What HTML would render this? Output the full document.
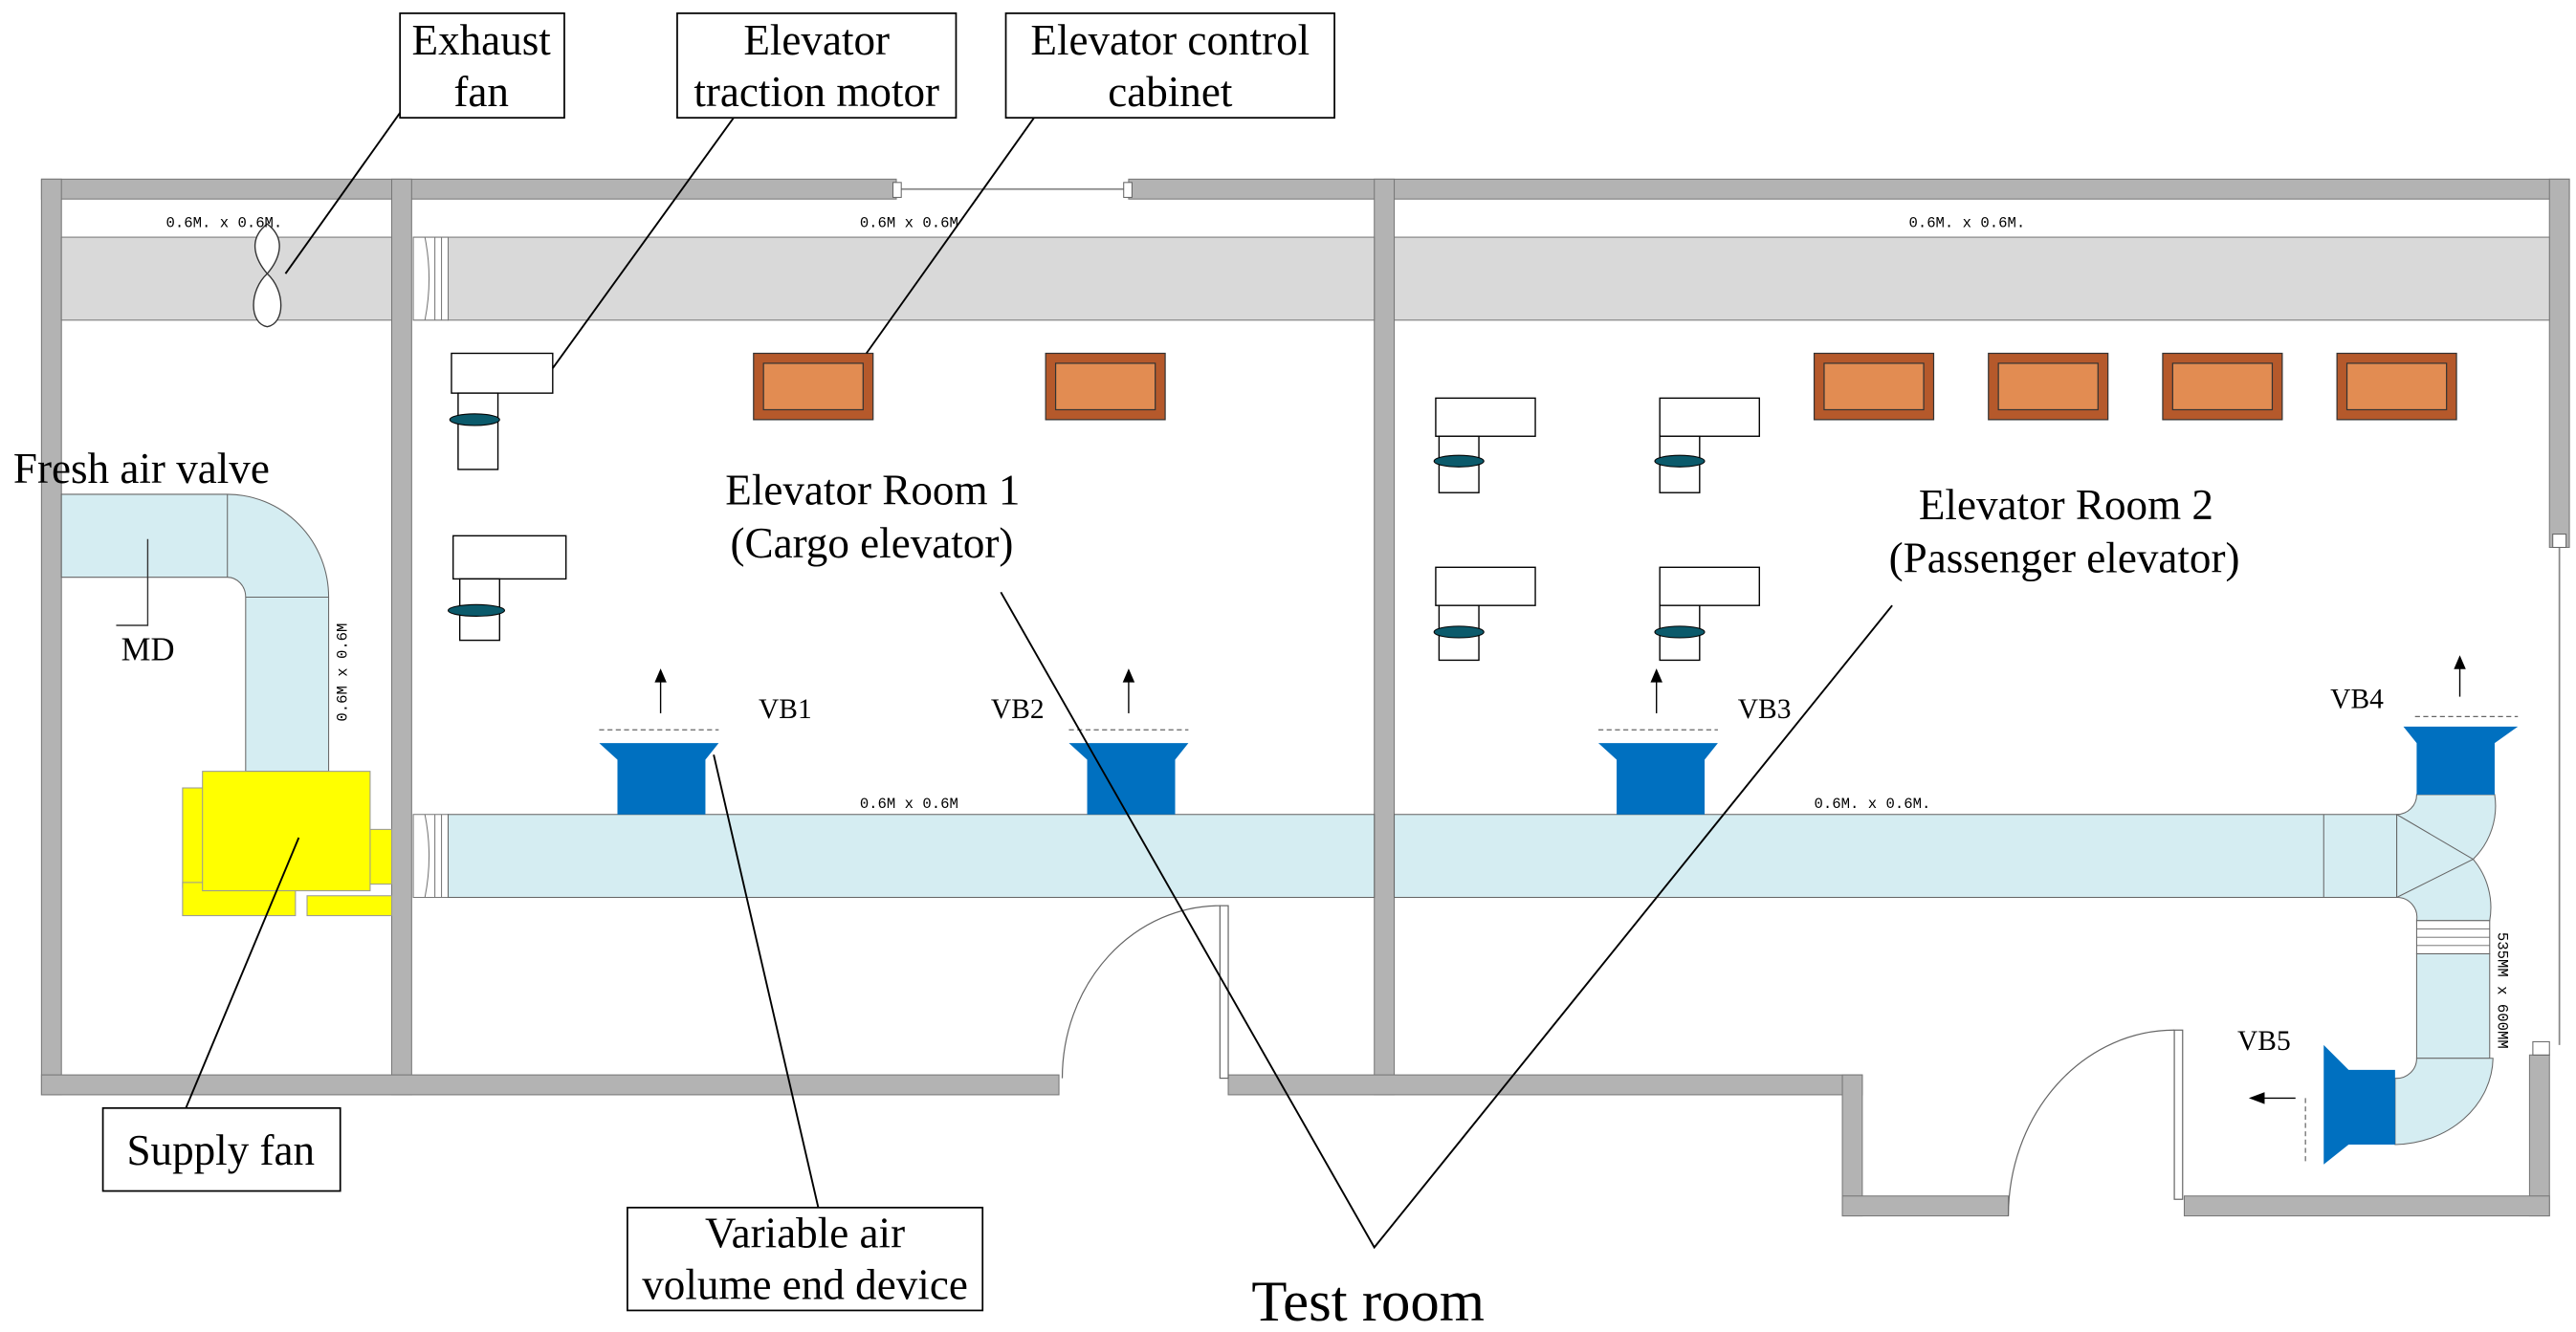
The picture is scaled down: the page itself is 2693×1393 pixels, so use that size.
<!DOCTYPE html>
<html><head><meta charset="utf-8"><style>
html,body{margin:0;padding:0;background:#fff;width:2693px;height:1393px;overflow:hidden}
svg{display:block}
text{font-family:"Liberation Serif",serif;fill:#000}
.s{font-size:9px;font-family:"Liberation Mono",monospace}
.l{font-size:26px}
</style></head><body>
<svg width="2693" height="1393" viewBox="0 0 1552 803" preserveAspectRatio="none" xmlns="http://www.w3.org/2000/svg">
<g fill="#b3b3b3" stroke="#777" stroke-width="0.6">
<rect x="25" y="108" width="515" height="12"/>
<rect x="680" y="108" width="868" height="12"/>
<rect x="25" y="108" width="12" height="552"/>
<rect x="236" y="108" width="12" height="552"/>
<rect x="828" y="108" width="12" height="552"/>
<rect x="1536" y="108" width="12" height="222"/>
<rect x="1524" y="636" width="12" height="97"/>
<rect x="25" y="648" width="613" height="12"/>
<rect x="740" y="648" width="382" height="12"/>
<rect x="1110" y="648" width="12" height="85"/>
<rect x="1110" y="721" width="100" height="12"/>
<rect x="1316" y="721" width="220" height="12"/>
</g>
<line x1="540" y1="114" x2="680" y2="114" stroke="#888" stroke-width="1"/>
<rect x="538" y="110" width="5" height="9" fill="#fff" stroke="#666" stroke-width="0.6"/>
<rect x="677" y="110" width="5" height="9" fill="#fff" stroke="#666" stroke-width="0.6"/>
<line x1="1542" y1="330" x2="1542" y2="630" stroke="#888" stroke-width="1"/>
<rect x="1538" y="322" width="8" height="8" fill="#fff" stroke="#666" stroke-width="0.6"/>
<rect x="1526" y="628" width="10" height="8" fill="#fff" stroke="#666" stroke-width="0.6"/>
<rect x="37" y="143" width="199" height="50" fill="#d9d9d9" stroke="#777" stroke-width="0.6"/>
<rect x="270" y="143" width="558" height="50" fill="#d9d9d9" stroke="#777" stroke-width="0.6"/>
<rect x="840" y="143" width="696" height="50" fill="#d9d9d9" stroke="#777" stroke-width="0.6"/>
<path d="M249 143 h21 v50 h-21 Z M256 143 q5 25 0 50 M262 143 v50 M266 143 v50" fill="#fff" stroke="#777" stroke-width="0.6"/>
<path d="M161 135 C148 145 155 158 161 165 C167 158 174 145 161 135 Z M161 165 C150 175 150 195 161 197 C172 195 172 175 161 165 Z" fill="#fff" stroke="#333" stroke-width="0.8"/>
<text class="s" x="100" y="137">0.6M.  x 0.6M.</text>
<text class="s" x="518" y="137">0.6M x 0.6M</text>
<text class="s" x="1150" y="137">0.6M.  x 0.6M.</text>
<path d="M37 298 H137 A61 62 0 0 1 198 360 V465 H148 V360 A11 12 0 0 0 137 348 H37 Z" fill="#d5edf2" stroke="#666" stroke-width="0.6"/>
<line x1="137" y1="298" x2="137" y2="348" stroke="#666" stroke-width="0.6"/>
<line x1="148" y1="360" x2="198" y2="360" stroke="#666" stroke-width="0.6"/>
<polyline points="89,325 89,377 70,377" fill="none" stroke="#333" stroke-width="0.8"/>
<text x="73" y="398" style="font-size:20px">MD</text>
<text class="s" transform="translate(209,435) rotate(-90)">0.6M x 0.6M</text>
<text class="l" x="8" y="291">Fresh air valve</text>
<g fill="#ffff00" stroke="#999" stroke-width="0.6">
<rect x="110" y="475" width="22" height="60"/>
<rect x="110" y="532" width="68" height="20"/>
<rect x="185" y="540" width="51" height="12"/>
<rect x="218" y="500" width="18" height="33"/>
<rect x="122" y="465" width="101" height="72"/>
</g>
<path d="M249 491 h21 v50 h-21 Z M256 491 q5 25 0 50 M262 491 v50 M266 491 v50" fill="#fff" stroke="#777" stroke-width="0.6"/>
<rect x="270" y="491" width="558" height="50" fill="#d5edf2" stroke="#666" stroke-width="0.6"/>
<rect x="840" y="491" width="604" height="50" fill="#d5edf2" stroke="#666" stroke-width="0.6"/>
<line x1="1400" y1="491" x2="1400" y2="541" stroke="#666" stroke-width="0.6"/>
<path d="M1444 491 A12 12 0 0 0 1456 479 H1503 A45 45 0 0 1 1490 518 A45 45 0 0 1 1500 555 H1456 A12 12 0 0 0 1444 541 Z" fill="#d5edf2" stroke="#666" stroke-width="0.6"/>
<polyline points="1444,491 1490,518 1444,541" fill="none" stroke="#666" stroke-width="0.6"/>
<rect x="1456" y="555" width="44" height="20" fill="#fff" stroke="#666" stroke-width="0.6"/>
<path d="M1456 560 h44 M1456 565 h44 M1456 570 h44" stroke="#666" stroke-width="0.5"/>
<rect x="1456" y="575" width="44" height="63" fill="#d5edf2" stroke="#666" stroke-width="0.6"/>
<path d="M1456 638 H1502 A60 53 0 0 1 1443 690 V650 A12 12 0 0 0 1456 638 Z" fill="#d5edf2" stroke="#666" stroke-width="0.6"/>
<text class="s" transform="translate(1505,562) rotate(90)">535MM x 600MM</text>
<text class="s" x="518" y="487">0.6M x 0.6M</text>
<text class="s" x="1093" y="487">0.6M.  x 0.6M.</text>
<g fill="#0070c0">
<path d="M361 448 H433 L425 458 V491 H372 V458 Z"/>
<path d="M644 448 H716 L708 458 V491 H655 V458 Z"/>
<path d="M963 448 H1035 L1027 458 V491 H974 V458 Z"/>
<path d="M1448 438 H1517 L1503 448 V479 H1456 V448 Z"/>
<path d="M1400 630 L1415 645 H1443 V690 H1415 L1400 702 Z"/>
</g>
<g stroke="#666" stroke-width="0.7" stroke-dasharray="3,2">
<line x1="361" y1="440" x2="433" y2="440"/>
<line x1="644" y1="440" x2="716" y2="440"/>
<line x1="963" y1="440" x2="1035" y2="440"/>
<line x1="1455" y1="432" x2="1517" y2="432"/>
<line x1="1389" y1="662" x2="1389" y2="700"/>
</g>
<g stroke="#000" stroke-width="0.8" fill="#000">
<line x1="398" y1="430" x2="398" y2="410"/><path d="M395 411 L398 404 L401 411 Z"/>
<line x1="680" y1="430" x2="680" y2="410"/><path d="M677 411 L680 404 L683 411 Z"/>
<line x1="998" y1="430" x2="998" y2="410"/><path d="M995 411 L998 404 L1001 411 Z"/>
<line x1="1482" y1="420" x2="1482" y2="402"/><path d="M1479 403 L1482 396 L1485 403 Z"/>
<line x1="1383" y1="662" x2="1363" y2="662"/><path d="M1364 659 L1356 662 L1364 665 Z"/>
</g>
<g style="font-size:17px">
<text x="457" y="433">VB1</text><text x="597" y="433">VB2</text><text x="1047" y="433">VB3</text>
<text x="1404" y="427">VB4</text><text x="1348" y="633">VB5</text>
</g>
<g fill="#fff" stroke="#000" stroke-width="0.8">
<rect x="272" y="213" width="61" height="24"/><rect x="276" y="237" width="24" height="46"/>
<rect x="273" y="323" width="68" height="26"/><rect x="277" y="349" width="24" height="37"/>
<rect x="865" y="240" width="60" height="23"/><rect x="867" y="263" width="24" height="34"/>
<rect x="1000" y="240" width="60" height="23"/><rect x="1000" y="263" width="24" height="34"/>
<rect x="865" y="342" width="60" height="23"/><rect x="867" y="365" width="24" height="33"/>
<rect x="1000" y="342" width="60" height="23"/><rect x="1000" y="365" width="24" height="33"/>
</g>
<g fill="#0b5a6b" stroke="#000" stroke-width="0.6">
<ellipse cx="286" cy="253" rx="15" ry="3.5"/><ellipse cx="287" cy="368" rx="17" ry="3.5"/>
<ellipse cx="879" cy="278" rx="15" ry="3.5"/><ellipse cx="1012" cy="278" rx="15" ry="3.5"/>
<ellipse cx="879" cy="381" rx="15" ry="3.5"/><ellipse cx="1012" cy="381" rx="15" ry="3.5"/>
</g>
<g stroke="#333" stroke-width="0.7">
<g transform="translate(454,213)"><rect width="72" height="40" fill="#b5592b"/><rect x="6" y="6" width="60" height="28" fill="#e28c52"/></g>
<g transform="translate(630,213)"><rect width="72" height="40" fill="#b5592b"/><rect x="6" y="6" width="60" height="28" fill="#e28c52"/></g>
<g transform="translate(1093,213)"><rect width="72" height="40" fill="#b5592b"/><rect x="6" y="6" width="60" height="28" fill="#e28c52"/></g>
<g transform="translate(1198,213)"><rect width="72" height="40" fill="#b5592b"/><rect x="6" y="6" width="60" height="28" fill="#e28c52"/></g>
<g transform="translate(1303,213)"><rect width="72" height="40" fill="#b5592b"/><rect x="6" y="6" width="60" height="28" fill="#e28c52"/></g>
<g transform="translate(1408,213)"><rect width="72" height="40" fill="#b5592b"/><rect x="6" y="6" width="60" height="28" fill="#e28c52"/></g>
</g>
<g fill="none" stroke="#666" stroke-width="0.7">
<path d="M640 650 A95 104 0 0 1 735 546"/>
<rect x="735" y="546" width="5" height="104" fill="#fff"/>
<path d="M1210 733 A100 112 0 0 1 1310 621"/>
<rect x="1310" y="621" width="5" height="102" fill="#fff"/>
</g>
<text class="l" x="437" y="304">Elevator Room 1</text>
<text class="l" x="440" y="336">(Cargo elevator)</text>
<text class="l" x="1156" y="313">Elevator Room 2</text>
<text class="l" x="1138" y="345">(Passenger elevator)</text>
<text x="754" y="796" style="font-size:35px">Test room</text>
<g stroke="#000" stroke-width="1.1" fill="none">
<line x1="241" y1="68" x2="172" y2="165"/>
<line x1="442" y1="71" x2="333" y2="222"/>
<line x1="623" y1="71" x2="522" y2="213"/>
<line x1="180" y1="505" x2="112" y2="668"/>
<line x1="430" y1="455" x2="493" y2="728"/>
<polyline points="603,357 828,752 1140,365"/>
</g>
<g fill="#fff" stroke="#000" stroke-width="1">
<rect x="241" y="8" width="99" height="63"/>
<rect x="408" y="8" width="168" height="63"/>
<rect x="606" y="8" width="198" height="63"/>
<rect x="62" y="668" width="143" height="50"/>
<rect x="378" y="728" width="214" height="62"/>
</g>
<g text-anchor="middle">
<text class="l" x="290" y="33">Exhaust</text><text class="l" x="290" y="64">fan</text>
<text class="l" x="492" y="33">Elevator</text><text class="l" x="492" y="64">traction motor</text>
<text class="l" x="705" y="33">Elevator control</text><text class="l" x="705" y="64">cabinet</text>
<text class="l" x="133" y="702">Supply fan</text>
<text class="l" x="485" y="752">Variable air</text><text class="l" x="485" y="783">volume end device</text>
</g>
</svg>
</body></html>
